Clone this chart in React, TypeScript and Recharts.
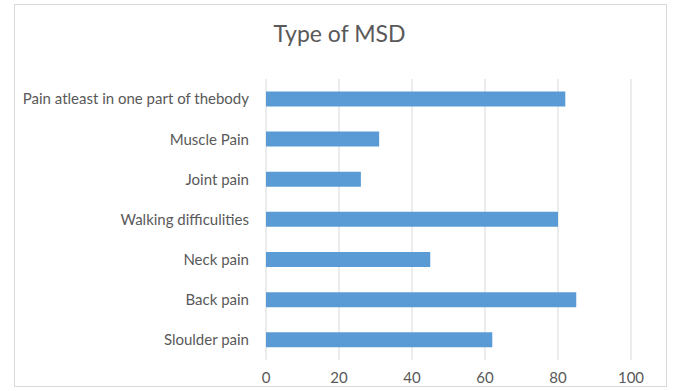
import { Bar, BarChart, CartesianGrid, XAxis, YAxis } from "recharts";

const categories = [
  "Pain atleast in one part of thebody",
  "Muscle Pain",
  "Joint pain",
  "Walking difficulities",
  "Neck pain",
  "Back pain",
  "Sloulder pain",
];
const values = [82, 31, 26, 80, 45, 85, 62];
const xTicks = [0, 20, 40, 60, 80, 100];

const data = categories.map((name, i) => ({ name, value: values[i] }));

const font = "Lato, 'Open Sans', sans-serif";

export default function App() {
  return (
    <div style={{ position: "absolute", left: 0, top: 0, width: 673, height: 391, background: "#fff", fontFamily: font }}>
      <div
        style={{
          position: "absolute",
          left: 14,
          top: 4,
          width: 653,
          height: 383,
          border: "1px solid #d9d9d9",
          boxSizing: "border-box",
        }}
      />
      <div
        style={{
          position: "absolute",
          left: 0,
          width: 679,
          top: 19,
          textAlign: "center",
          fontSize: 23,
          color: "#595959",
        }}
      >
        Type of MSD
      </div>
      <div style={{ position: "absolute", left: 0, top: 0 }}>
        <BarChart
          width={673}
          height={391}
          data={data}
          layout="vertical"
          margin={{ top: 79, right: 42, bottom: 0, left: 0 }}
          barCategoryGap="31%"
        >
          <CartesianGrid horizontal={false} stroke="#d9d9d9" />
          <XAxis
            type="number"
            domain={[0, 100]}
            ticks={xTicks}
            axisLine={false}
            tickLine={false}
            tickSize={0}
            tickMargin={12}
            height={31}
            tick={{ fill: "#595959", fontSize: 15, fontFamily: font }}
          />
          <YAxis
            type="category"
            dataKey="name"
            width={266}
            axisLine={false}
            tickLine={false}
            tickSize={0}
            tickMargin={17}
            interval={0}
            tick={{ fill: "#595959", fontSize: 15, fontFamily: font }}
          />
          <Bar dataKey="value" fill="#5b9bd5" isAnimationActive={false} />
        </BarChart>
      </div>
    </div>
  );
}
